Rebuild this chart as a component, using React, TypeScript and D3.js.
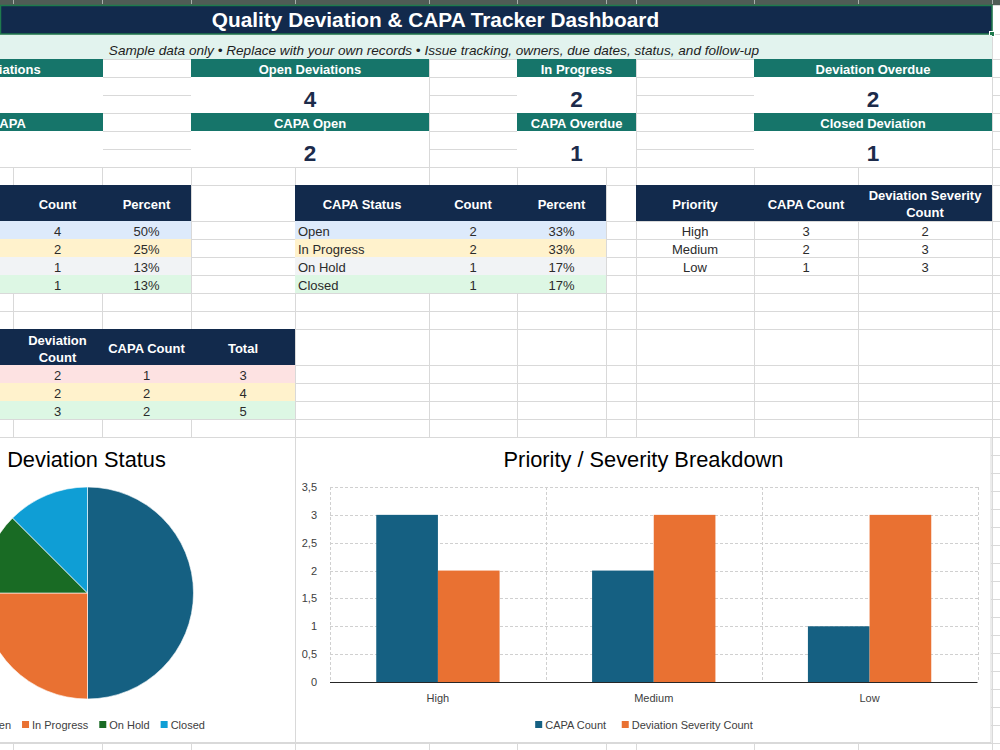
import React from "react";
import * as d3 from "d3";

// ---------- DATA ----------
const kpiRow1Labels = ["Total Deviations", "Open Deviations", "In Progress", "Deviation Overdue"];
const kpiRow1Values = [8, 4, 2, 2];
const kpiRow2Labels = ["Total CAPA", "CAPA Open", "CAPA Overdue", "Closed Deviation"];
const kpiRow2Values = [6, 2, 1, 1];

const deviationStatuses = ["Open", "In Progress", "On Hold", "Closed"];
const deviationCounts = [4, 2, 1, 1];
const capaStatuses = ["Open", "In Progress", "On Hold", "Closed"];
const capaCounts = [2, 2, 1, 1];

const priorities = ["High", "Medium", "Low"];
const priorityCapaCounts = [3, 2, 1];
const prioritySeverityCounts = [2, 3, 3];

const summaryLabels = ["High", "Medium", "Low"];
const summaryDeviationCounts = [2, 2, 3];
const summaryCapaCounts = [1, 2, 2];

const barSeries = ["CAPA Count", "Deviation Severity Count"];
const yTicks = [0, 0.5, 1, 1.5, 2, 2.5, 3, 3.5];

const titleText = "Quality Deviation & CAPA Tracker Dashboard";
const subtitleText =
  "Sample data only \u2022 Replace with your own records \u2022 Issue tracking, owners, due dates, status, and follow-up";

// ---------- STYLE / LAYOUT ----------
const W = 1000;
const H = 750;
const NAVY = "#122a4c";
const TEAL = "#16756a";
const MINT = "#e2f3ee";
const GRID = "#d9d9d9";
const KPI_NUM = "#1c2b4b";
const BODY = "#2b2b2b";
const FONT = "'Liberation Sans', Arial, sans-serif";
const C_BLUE = "#156082";
const C_ORANGE = "#e97132";
const C_GREEN = "#196b24";
const C_LIGHT = "#0f9ed5";
const pieColors = [C_BLUE, C_ORANGE, C_GREEN, C_LIGHT];
const barColors = [C_BLUE, C_ORANGE];
const rowFills = ["#ddeafb", "#fff2cc", "#f1f3f5", "#ddf7e4"];
const summaryFills = ["#fde2e2", "#fff2cc", "#ddf7e4"];

const COLS = [13, 102, 191, 295, 429, 517, 606, 636, 754, 858, 992];
const ROWS: number[] = [5, 34, 59, 77, 95, 113, 131, 149, 167, 185, 221, 239, 257, 275, 293, 311, 329, 365, 383, 401, 419, 437];
for (let y = 455; y <= 761; y += 18) ROWS.push(y);

const kpiBoxes: [number, number][] = [
  [-121, 103],
  [191, 429],
  [517, 636],
  [754, 992],
];

function measure(text: string, font: string): number {
  const ctx = document.createElement("canvas").getContext("2d");
  if (!ctx) return text.length * 6;
  ctx.font = font;
  return ctx.measureText(text).width;
}

function Cell({ x1, x2, y1, y2, fill }: { x1: number; x2: number; y1: number; y2: number; fill: string }) {
  return <rect x={x1} y={y1} width={x2 - x1 + 1} height={y2 - y1 + 1} fill={fill} />;
}

function Legend({
  names,
  colors,
  cx,
  cy,
  gap,
}: {
  names: string[];
  colors: string[];
  cx: number;
  cy: number;
  gap: number;
}) {
  const font = `11px ${FONT}`;
  const widths = names.map((n) => measure(n, font));
  const total = widths.reduce((a, w) => a + 10 + w, 0) + gap * (names.length - 1);
  let x = cx - total / 2;
  const items = names.map((n, i) => {
    const start = x;
    x += 10 + widths[i] + gap;
    return (
      <g key={n}>
        <rect x={start} y={cy - 3.5} width={7} height={7} fill={colors[i]} />
        <text x={start + 10} y={cy + 4} fontSize={11} fontFamily={FONT} fill="#404040">
          {n}
        </text>
      </g>
    );
  });
  return <g>{items}</g>;
}

export default function App() {
  const pct = d3.format(".0%");
  const tickFmt = d3
    .formatLocale({ decimal: ",", thousands: ".", grouping: [3], currency: ["", ""] })
    .format("~g");

  const devTotal = d3.sum(deviationCounts);
  const capaTotal = d3.sum(capaCounts);

  // Pie
  const pieCx = 87.5;
  const pieCy = 593;
  const pieR = 106;
  const pieGen = d3.pie<number>().sort(null).value((d) => d);
  const arcs = pieGen(deviationCounts);
  const arcGen = d3.arc<d3.PieArcDatum<number>>().innerRadius(0).outerRadius(pieR);

  // Bars
  const plotL = 330;
  const plotR = 977.5;
  const plotT = 487;
  const plotB = 682;
  const x0 = d3.scaleBand<string>().domain(priorities).range([plotL, plotR]).padding(0);
  const band = x0.bandwidth();
  const gapW = (band * 1.5) / 3.5;
  const x1 = d3.scaleBand<string>().domain(barSeries).range([gapW / 2, band - gapW / 2]).padding(0);
  const y = d3.scaleLinear().domain([0, 3.5]).range([plotB, plotT]);
  const barValues = [priorityCapaCounts, prioritySeverityCounts];
  const catBounds = [plotL, ...priorities.map((p) => (x0(p) as number) + band)];

  const bodyText = (props: any, txt: string | number) => (
    <text fontSize={13} fontFamily={FONT} fill={BODY} {...props}>
      {txt}
    </text>
  );
  const headText = (props: any, txt: string) => (
    <text fontSize={13} fontWeight="bold" fontFamily={FONT} fill="#ffffff" textAnchor="middle" {...props}>
      {txt}
    </text>
  );

  return (
    <svg
      width={W}
      height={H}
      viewBox={`0 0 ${W} ${H}`}
      style={{ position: "absolute", left: 0, top: 0, background: "#ffffff" }}
    >
      <rect x={0} y={0} width={W} height={H} fill="#ffffff" />
      {/* gridlines */}
      <g stroke={GRID} strokeWidth={1} shapeRendering="crispEdges">
        {COLS.map((c) => (
          <line key={"c" + c} x1={c + 0.5} x2={c + 0.5} y1={5} y2={H} />
        ))}
        {ROWS.map((r) => (
          <line key={"r" + r} x1={0} x2={W} y1={r + 0.5} y2={r + 0.5} />
        ))}
      </g>

      {/* top strip */}
      <rect x={0} y={0} width={W} height={5} fill="#4f5c55" />
      {COLS.map((c) => (
        <rect key={"tm" + c} x={c} y={0} width={1} height={4} fill="#a8b0ab" />
      ))}

      {/* title band */}
      <rect x={0} y={5} width={992} height={29} fill={NAVY} />
      <rect x={0.5} y={5.5} width={991.5} height={28.5} fill="none" stroke="#1f7a4d" strokeWidth={1.5} />
      <rect x={989.5} y={31.5} width={5} height={5} fill="#1f7a4d" stroke="#ffffff" strokeWidth={1} />
      <text
        x={435.5}
        y={27}
        textAnchor="middle"
        fontSize={20.8}
        fontWeight="bold"
        fontFamily={FONT}
        fill="#ffffff"
      >
        {titleText}
      </text>

      {/* subtitle band */}
      <rect x={0} y={35} width={992} height={24} fill={MINT} />
      <text x={434} y={55} textAnchor="middle" fontSize={13.6} fontStyle="italic" fontFamily={FONT} fill="#1e1e1e">
        {subtitleText}
      </text>

      {/* KPI blocks */}
      {[
        { labels: kpiRow1Labels, values: kpiRow1Values, top: 59 },
        { labels: kpiRow2Labels, values: kpiRow2Values, top: 113 },
      ].map((row, ri) => (
        <g key={"kr" + ri}>
          {kpiBoxes.map(([a, b], i) => {
            const cx = (a + b) / 2;
            return (
              <g key={"kb" + i}>
                <rect x={a} y={row.top} width={b - a} height={18} fill={TEAL} />
                <Cell x1={a} x2={b - 1} y1={row.top + 18} y2={row.top + 53} fill="#ffffff" />
                {headText({ x: cx, y: row.top + 14.5 }, row.labels[i])}
                <text
                  x={cx}
                  y={row.top + 47.5}
                  textAnchor="middle"
                  fontSize={22.5}
                  fontWeight="bold"
                  fontFamily={FONT}
                  fill={KPI_NUM}
                >
                  {row.values[i]}
                </text>
              </g>
            );
          })}
        </g>
      ))}

      {/* Table 1: deviation status */}
      <Cell x1={-200} x2={190} y1={185} y2={220} fill={NAVY} />
      {headText({ x: -60, y: 209 }, "Deviation Status")}
      {headText({ x: 57.5, y: 209 }, "Count")}
      {headText({ x: 146.5, y: 209 }, "Percent")}
      {deviationStatuses.map((s, i) => {
        const top = 221 + i * 18;
        return (
          <g key={"t1" + s}>
            <Cell x1={-200} x2={190} y1={top} y2={top + 17} fill={rowFills[i]} />
            {bodyText({ x: -130, y: top + 15 }, s)}
            {bodyText({ x: 57.5, y: top + 15, textAnchor: "middle" }, deviationCounts[i])}
            {bodyText({ x: 146.5, y: top + 15, textAnchor: "middle" }, pct(deviationCounts[i] / devTotal))}
          </g>
        );
      })}

      {/* Table 2: CAPA status */}
      <Cell x1={295} x2={605} y1={185} y2={220} fill={NAVY} />
      {headText({ x: 362, y: 209 }, "CAPA Status")}
      {headText({ x: 473, y: 209 }, "Count")}
      {headText({ x: 561.5, y: 209 }, "Percent")}
      {capaStatuses.map((s, i) => {
        const top = 221 + i * 18;
        return (
          <g key={"t2" + s}>
            <Cell x1={295} x2={605} y1={top} y2={top + 17} fill={rowFills[i]} />
            {bodyText({ x: 298, y: top + 15 }, s)}
            {bodyText({ x: 473, y: top + 15, textAnchor: "middle" }, capaCounts[i])}
            {bodyText({ x: 561.5, y: top + 15, textAnchor: "middle" }, pct(capaCounts[i] / capaTotal))}
          </g>
        );
      })}

      {/* Table 3: priority */}
      <Cell x1={636} x2={991} y1={185} y2={220} fill={NAVY} />
      {headText({ x: 695, y: 209 }, "Priority")}
      {headText({ x: 806, y: 209 }, "CAPA Count")}
      {headText({ x: 925, y: 200 }, "Deviation Severity")}
      {headText({ x: 925, y: 217 }, "Count")}
      {priorities.map((p, i) => {
        const top = 221 + i * 18;
        return (
          <g key={"t3" + p}>
            {bodyText({ x: 695, y: top + 15, textAnchor: "middle" }, p)}
            {bodyText({ x: 806, y: top + 15, textAnchor: "middle" }, priorityCapaCounts[i])}
            {bodyText({ x: 925, y: top + 15, textAnchor: "middle" }, prioritySeverityCounts[i])}
          </g>
        );
      })}

      {/* Table 4: summary */}
      <Cell x1={-200} x2={294} y1={329} y2={364} fill={NAVY} />
      {headText({ x: 57.5, y: 345 }, "Deviation")}
      {headText({ x: 57.5, y: 362 }, "Count")}
      {headText({ x: 146.5, y: 353 }, "CAPA Count")}
      {headText({ x: 243, y: 353 }, "Total")}
      {summaryLabels.map((s, i) => {
        const top = 365 + i * 18;
        return (
          <g key={"t4" + s}>
            <Cell x1={-200} x2={294} y1={top} y2={top + 17} fill={summaryFills[i]} />
            {bodyText({ x: -130, y: top + 15 }, s)}
            {bodyText({ x: 57.5, y: top + 15, textAnchor: "middle" }, summaryDeviationCounts[i])}
            {bodyText({ x: 146.5, y: top + 15, textAnchor: "middle" }, summaryCapaCounts[i])}
            {bodyText(
              { x: 243, y: top + 15, textAnchor: "middle" },
              summaryDeviationCounts[i] + summaryCapaCounts[i]
            )}
          </g>
        );
      })}

      {/* Pie chart object */}
      <rect x={-130} y={437.5} width={425.5} height={305} fill="#ffffff" stroke={GRID} strokeWidth={1} />
      <text x={86.5} y={467} textAnchor="middle" fontSize={21.8} fontFamily={FONT} fill="#000000">
        Deviation Status
      </text>
      <g transform={`translate(${pieCx},${pieCy})`}>
        {arcs.map((a, i) => (
          <path key={"p" + i} d={arcGen(a) as string} fill={pieColors[i]} stroke="#ffffff" strokeWidth={0.6} />
        ))}
      </g>
      <Legend names={deviationStatuses} colors={pieColors} cx={89.5} cy={724.5} gap={11} />

      {/* Bar chart object */}
      <rect x={295.5} y={437.5} width={695.5} height={305} fill="#ffffff" stroke={GRID} strokeWidth={1} />
      <text x={643.5} y={467} textAnchor="middle" fontSize={21.8} fontFamily={FONT} fill="#000000">
        Priority / Severity Breakdown
      </text>
      <g stroke="#d0d0d0" strokeWidth={1} strokeDasharray="3,2" shapeRendering="crispEdges">
        {yTicks
          .filter((t) => t > 0)
          .map((t) => (
            <line key={"gy" + t} x1={plotL} x2={plotR} y1={Math.round(y(t)) + 0.5} y2={Math.round(y(t)) + 0.5} />
          ))}
        {catBounds.map((b, i) => (
          <line key={"gx" + i} x1={Math.round(b) + 0.5} x2={Math.round(b) + 0.5} y1={plotT} y2={plotB} />
        ))}
      </g>
      {priorities.map((p, ci) => (
        <g key={"bg" + p}>
          {barSeries.map((s, si) => {
            const v = barValues[si][ci];
            const bx = (x0(p) as number) + (x1(s) as number);
            return (
              <rect
                key={"b" + s}
                x={bx}
                y={y(v)}
                width={x1.bandwidth()}
                height={plotB - y(v)}
                fill={barColors[si]}
              />
            );
          })}
        </g>
      ))}
      <line x1={plotL} x2={plotR} y1={plotB + 0.5} y2={plotB + 0.5} stroke="#262626" strokeWidth={1} />
      {yTicks.map((t) => (
        <text
          key={"yt" + t}
          x={317}
          y={y(t) + 4}
          textAnchor="end"
          fontSize={11}
          fontFamily={FONT}
          fill="#404040"
        >
          {tickFmt(t)}
        </text>
      ))}
      {priorities.map((p) => (
        <text
          key={"xl" + p}
          x={(x0(p) as number) + band / 2}
          y={702}
          textAnchor="middle"
          fontSize={11}
          fontFamily={FONT}
          fill="#404040"
        >
          {p}
        </text>
      ))}
      <Legend names={barSeries} colors={barColors} cx={644} cy={724.5} gap={15} />
    </svg>
  );
}
